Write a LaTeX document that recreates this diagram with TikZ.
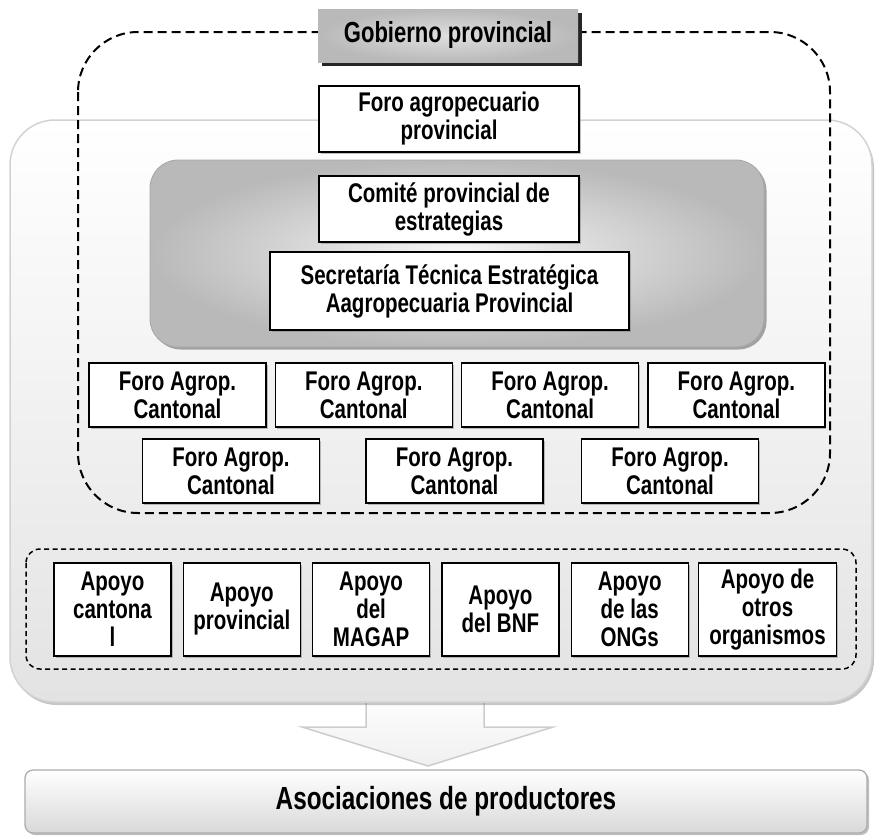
\documentclass[tikz,border=0pt]{standalone}
\usepackage{fontspec}
\setmainfont{Liberation Sans}[FakeStretch=0.76]
\usepackage{tikz}
\usetikzlibrary{positioning,shadows}

\begin{document}
\begin{tikzpicture}[x=1pt, y=-1pt, node distance=8pt and 8pt, every node/.style={font=\bfseries\fontsize{27}{28}\selectfont}]

\tikzstyle{whitebox} = [rectangle, draw, line width=1.3pt, fill=white, align=center, inner sep=2pt, drop shadow={shadow xshift=1.5pt, shadow yshift=-1.5pt, opacity=0.5}]
\tikzstyle{foro} = [whitebox, minimum width=177pt, minimum height=64pt]
\tikzstyle{apoyo} = [whitebox, minimum width=117pt, minimum height=93pt]
\tikzstyle{dashbox} = [draw, line width=2pt, dash pattern=on 9pt off 5pt]
\tikzstyle{panel} = [draw=gray!35, line width=1.5pt, top color=white, bottom color=gray!22, drop shadow={shadow xshift=2pt, shadow yshift=-3pt, opacity=0.45}]

\useasboundingbox (0,0) rectangle (877,835);

% Big arrow behind the panel
\draw[draw=gray!40, line width=1.5pt, top color=white, bottom color=gray!12]
  (366,690) -- (366,727) -- (302,727) -- (428,766) -- (553,727) -- (484,727) -- (484,690) -- cycle;

% Containers
\node[panel, rounded corners=45pt, minimum width=862pt, minimum height=582pt] (panel) at (441,411) {};
\draw[dashbox, rounded corners=60pt] (78,32) rectangle (830,513);
\node[rounded corners=28pt, minimum width=614pt, minimum height=187pt, draw=gray!70, line width=0.8pt,
  inner color=gray!6, outer color=gray!55,
  drop shadow={shadow xshift=2.5pt, shadow yshift=-2.5pt, opacity=0.7}] (comitearea) at (457,253.5) {};
\draw[dashbox, line width=1.5pt, dash pattern=on 5pt off 3.5pt, rounded corners=14pt] (26,549) rectangle (856,669);

% Provincial level
\node[minimum width=260pt, minimum height=53pt, inner color=gray!25, outer color=gray!55,
  drop shadow={shadow xshift=4pt, shadow yshift=-4pt, opacity=1, fill=black!85},
  font=\bfseries\fontsize{29}{30}\selectfont] (gobierno) at (448,35.5) {Gobierno provincial};
\node[whitebox, minimum width=260pt, minimum height=66pt] (foroprov) at (449,119) {Foro agropecuario\\provincial};
\node[whitebox, minimum width=260pt, minimum height=66pt] (comite) at (449,209) {Comité provincial de\\estrategias};
\node[whitebox, minimum width=359pt, minimum height=78pt] (secretaria) at (449.5,291) {Secretaría Técnica Estratégica\\Aagropecuaria Provincial};

% Cantonal forums
\node[foro] (fc1) at (177.5,395) {Foro Agrop.\\Cantonal};
\node[foro, right=of fc1] (fc2) {Foro Agrop.\\Cantonal};
\node[foro, right=of fc2] (fc3) {Foro Agrop.\\Cantonal};
\node[foro, right=of fc3] (fc4) {Foro Agrop.\\Cantonal};
\node[foro] (fc5) at (231,471) {Foro Agrop.\\Cantonal};
\node[foro] (fc6) at (454.5,471) {Foro Agrop.\\Cantonal};
\node[foro] (fc7) at (670,471) {Foro Agrop.\\Cantonal};

% Support
\node[apoyo] (ap1) at (112.5,609.5) {Apoyo\\cantona\\l};
\node[apoyo, right=11pt of ap1] (ap2) {Apoyo\\provincial};
\node[apoyo, right=11pt of ap2] (ap3) {Apoyo\\del\\MAGAP};
\node[apoyo, right=11pt of ap3] (ap4) {Apoyo\\del BNF};
\node[apoyo, right=11pt of ap4] (ap5) {Apoyo\\de las\\ONGs};
\node[apoyo, right=9pt of ap5, minimum width=138pt] (ap6) {Apoyo de\\otros\\organismos};

% Result
\node[draw=gray!65, line width=1.3pt, rounded corners=8pt, top color=white, bottom color=gray!30,
  minimum width=842pt, minimum height=63pt, drop shadow={shadow xshift=2pt, shadow yshift=-2pt, opacity=0.5},
  font=\bfseries\fontsize{32}{33}\selectfont] (asoc) at (446,801.5) {Asociaciones de productores};

\end{tikzpicture}
\end{document}
